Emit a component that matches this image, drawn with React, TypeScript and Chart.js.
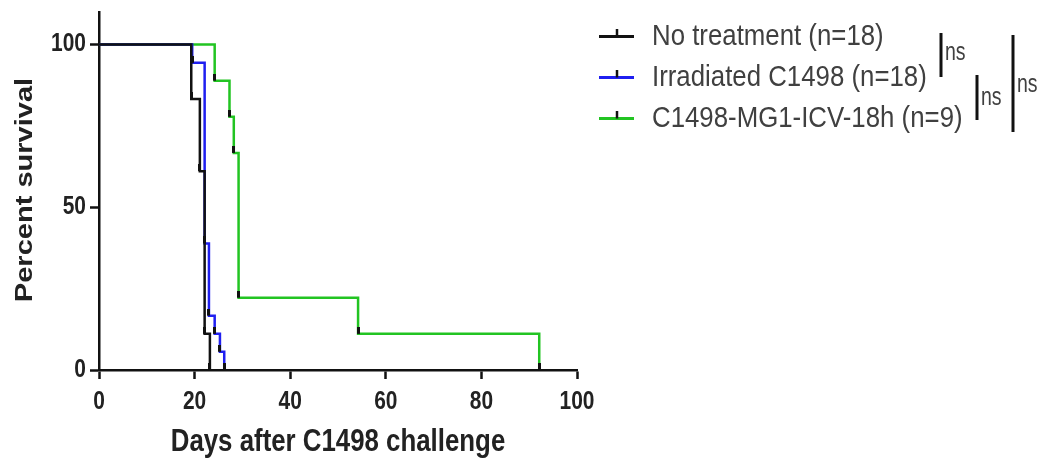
import { useEffect, useRef } from 'react';
import { Chart, registerables } from 'chart.js';

Chart.register(...registerables);

// ---- data ----
const seriesLabels = ['No treatment (n=18)', 'Irradiated C1498 (n=18)', 'C1498-MG1-ICV-18h (n=9)'];
const noTreatmentDays = [0, 19.3, 21.1, 22.1, 23.2];
const noTreatmentSurvival = [100, 83.3, 61.1, 11.1, 0];
const irradiatedDays = [0, 19.5, 22.1, 23.0, 24.2, 25.3, 26.2];
const irradiatedSurvival = [100, 94.4, 38.9, 16.7, 11.1, 5.6, 0];
const mg1Days = [0, 24.2, 27.3, 28.2, 29.2, 54.2, 92.1];
const mg1Survival = [100, 88.9, 77.8, 66.7, 22.2, 11.1, 0];
const xTicks = [0, 20, 40, 60, 80, 100];
const yTicks = [0, 50, 100];
const comparisonLabels = ['ns', 'ns', 'ns'];
const xTitle = 'Days after C1498 challenge';
const yTitle = 'Percent survival';

const family = "'Liberation Sans', Arial, sans-serif";
const seriesColors = ['#111111', '#1f1ff0', '#22c422'];

function makeTick(): HTMLCanvasElement {
  const c = document.createElement('canvas');
  c.width = 3;
  c.height = 14;
  const g = c.getContext('2d')!;
  g.fillStyle = '#111';
  g.fillRect(0, 0, 3, 7);
  return c;
}

function stretchedText(
  ctx: CanvasRenderingContext2D,
  text: string,
  x: number,
  y: number,
  font: string,
  sx: number,
  sy: number,
  align: CanvasTextAlign,
  color: string,
  rotation = 0
) {
  ctx.save();
  ctx.translate(x, y);
  ctx.rotate(rotation);
  ctx.scale(sx, sy);
  ctx.font = font;
  ctx.textAlign = align;
  ctx.textBaseline = 'middle';
  ctx.fillStyle = color;
  ctx.fillText(text, 0, 0);
  ctx.restore();
}

const axisTextPlugin = {
  id: 'axisText',
  afterDraw(chart: any) {
    const ctx = chart.ctx as CanvasRenderingContext2D;
    const xs = chart.scales.x;
    const ys = chart.scales.y;
    const area = chart.chartArea;
    xs.ticks.forEach((t: any) => {
      stretchedText(ctx, String(t.value), xs.getPixelForValue(t.value), 402, `bold 25.5px ${family}`, 0.82, 1, 'center', '#222');
    });
    ys.ticks.forEach((t: any) => {
      stretchedText(ctx, String(t.value), 86, ys.getPixelForValue(t.value) - 0.5, `bold 25.5px ${family}`, 0.82, 1, 'right', '#222');
    });
    stretchedText(ctx, xTitle, (area.left + area.right) / 2, 442, `bold 31.5px ${family}`, 0.82, 1, 'center', '#222');
    stretchedText(ctx, yTitle, 25, (area.top + area.bottom) / 2 - 1, `bold 24px ${family}`, 1.21, 1, 'center', '#222', -Math.PI / 2);
  },
};

const legendPlugin = {
  id: 'kmLegend',
  afterDraw(chart: any) {
    const ctx = chart.ctx as CanvasRenderingContext2D;
    ctx.save();
    chart.data.datasets.forEach((ds: any, i: number) => {
      const y = 36.5 + i * 41;
      ctx.strokeStyle = ds.borderColor;
      ctx.lineWidth = 3;
      ctx.beginPath();
      ctx.moveTo(599, y);
      ctx.lineTo(634, y);
      ctx.stroke();
      ctx.strokeStyle = '#111';
      ctx.lineWidth = 2.5;
      ctx.beginPath();
      ctx.moveTo(617, y);
      ctx.lineTo(617, y - 7.5);
      ctx.stroke();
      stretchedText(ctx, ds.label, 652, y, `29px ${family}`, 0.89, 1, 'left', '#404040');
    });
    const bars = [
      { x: 941, y1: 33, y2: 77, ty: 53 },
      { x: 977, y1: 75, y2: 120, ty: 98 },
      { x: 1013, y1: 35, y2: 132, ty: 85 },
    ];
    bars.forEach((b, i) => {
      ctx.strokeStyle = '#111';
      ctx.lineWidth = 3;
      ctx.beginPath();
      ctx.moveTo(b.x, b.y1);
      ctx.lineTo(b.x, b.y2);
      ctx.stroke();
      stretchedText(ctx, comparisonLabels[i], b.x + 4, b.ty, `26px ${family}`, 0.75, 1, 'left', '#404040');
    });
    ctx.restore();
  },
};

export default function App() {
  const ref = useRef<HTMLCanvasElement>(null);
  useEffect(() => {
    const tick = makeTick();
    const mk = (days: number[], surv: number[]) => days.map((d, i) => ({ x: d, y: surv[i] }));
    const radii = (n: number) => Array.from({ length: n }, (_, i) => (i === 0 ? 0 : 4));
    const sets = [
      mk(noTreatmentDays, noTreatmentSurvival),
      mk(irradiatedDays, irradiatedSurvival),
      mk(mg1Days, mg1Survival),
    ];
    const gridOpts = { display: true, drawOnChartArea: false, drawTicks: true, tickLength: 9, tickWidth: 2.5, tickColor: '#111', color: '#111' };
    const chart = new Chart(ref.current!, {
      type: 'line',
      data: {
        datasets: sets.map((d, i) => ({
          label: seriesLabels[i],
          data: d,
          borderColor: seriesColors[i],
          backgroundColor: seriesColors[i],
          borderWidth: 2.5,
          stepped: 'before' as const,
          fill: false,
          pointStyle: tick,
          pointRadius: radii(d.length),
          pointBorderColor: '#111',
          pointBackgroundColor: '#111',
        })),
      },
      options: {
        responsive: false,
        animation: false,
        events: [],
        layout: { padding: { left: 0, right: 482, top: 12, bottom: 0 } },
        plugins: { legend: { display: false }, tooltip: { enabled: false } },
        scales: {
          x: {
            type: 'linear',
            min: 0,
            max: 100,
            afterBuildTicks: (s: any) => {
              s.ticks = xTicks.map((v) => ({ value: v }));
            },
            afterFit: (s: any) => {
              s.height = 88;
            },
            grid: gridOpts,
            border: { display: true, color: '#111', width: 2.5 },
            ticks: { display: false },
            title: { display: false, text: xTitle },
          },
          y: {
            type: 'linear',
            min: 0,
            max: 110,
            afterBuildTicks: (s: any) => {
              s.ticks = yTicks.map((v) => ({ value: v }));
            },
            afterFit: (s: any) => {
              s.width = 99;
            },
            grid: gridOpts,
            border: { display: true, color: '#111', width: 2.5 },
            ticks: { display: false },
            title: { display: false, text: yTitle },
          },
        },
      },
      plugins: [axisTextPlugin, legendPlugin],
    } as any);
    return () => chart.destroy();
  }, []);
  return (
    <div style={{ position: 'fixed', left: 0, top: 0, width: 1059, height: 458, background: '#fff' }}>
      <canvas ref={ref} width={1059} height={458} style={{ display: 'block' }} />
    </div>
  );
}
